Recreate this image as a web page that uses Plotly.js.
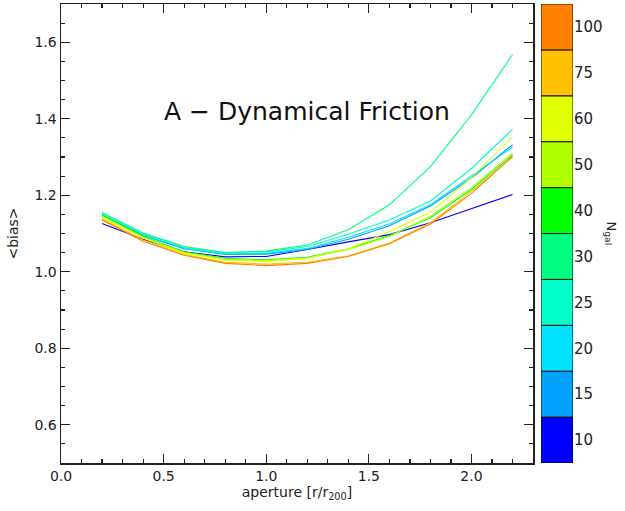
<!DOCTYPE html>
<html><head><meta charset="utf-8">
<script src="https://cdn.plot.ly/plotly-3.0.1.min.js"></script>
<style>html,body{margin:0;padding:0;background:#fff}</style>
</head><body><div id="chart" style="width:625px;height:511px"></div>
<script>
const aperture = [0.2, 0.4, 0.6, 0.8, 1.0, 1.2, 1.4, 1.6, 1.8, 2.0, 2.2];
const ngalLabels = ['10', '15', '20', '25', '30', '40', '50', '60', '75', '100'];
const ngalColors = ['#0000FF', '#00A0FF', '#00E0FF', '#00FFC8', '#00FF80', '#00FF00', '#B0FF00', '#E0FF00', '#FFC000', '#FF8000'];
const bias10  = [1.126, 1.085, 1.052, 1.039, 1.040, 1.058, 1.078, 1.097, 1.128, 1.164, 1.202];
const bias15  = [1.148, 1.095, 1.060, 1.045, 1.046, 1.058, 1.085, 1.120, 1.172, 1.245, 1.332];
const bias20  = [1.150, 1.097, 1.062, 1.047, 1.048, 1.061, 1.090, 1.125, 1.175, 1.250, 1.326];
const bias25  = [1.152, 1.100, 1.064, 1.050, 1.052, 1.066, 1.098, 1.135, 1.185, 1.270, 1.372];
const bias30  = [1.155, 1.101, 1.066, 1.050, 1.054, 1.070, 1.110, 1.175, 1.275, 1.410, 1.568];
const bias40  = [1.148, 1.092, 1.052, 1.035, 1.031, 1.038, 1.060, 1.095, 1.141, 1.215, 1.306];
const bias50  = [1.145, 1.090, 1.050, 1.033, 1.029, 1.036, 1.058, 1.092, 1.145, 1.220, 1.310];
const bias60  = [1.142, 1.088, 1.048, 1.030, 1.027, 1.035, 1.060, 1.105, 1.156, 1.246, 1.353];
const bias75  = [1.138, 1.083, 1.045, 1.025, 1.020, 1.025, 1.042, 1.075, 1.128, 1.210, 1.300];
const bias100 = [1.135, 1.080, 1.043, 1.022, 1.016, 1.022, 1.040, 1.073, 1.125, 1.205, 1.302];
const allBias = [bias10, bias15, bias20, bias25, bias30, bias40, bias50, bias60, bias75, bias100];

const font = {family: 'DejaVu Sans, sans-serif', size: 14, color: '#222'};
const traces = allBias.map((b, i) => ({
  type: 'scatter', mode: 'lines', x: aperture, y: b, xaxis: 'x', yaxis: 'y',
  line: {color: ngalColors[i], width: 1.1}, showlegend: false, hoverinfo: 'skip'
}));
const binIdx = ngalLabels.map((_, i) => i);
traces.push({
  type: 'bar', xaxis: 'x2', yaxis: 'y2', x: binIdx.map(() => 0), y: binIdx.map(() => 1), base: binIdx,
  width: 1, marker: {color: ngalColors, line: {color: '#111', width: 1}}, showlegend: false, hoverinfo: 'skip'
});

const layout = {
  width: 625, height: 511,
  margin: {l: 61, r: 52, t: 4, b: 48},
  paper_bgcolor: '#fff', plot_bgcolor: '#fff',
  font: font, showlegend: false, bargap: 0,
  xaxis: {
    domain: [0, 0.922], range: [0, 2.3], tickvals: [0, 0.5, 1.0, 1.5, 2.0], ticktext: ['0.0', '0.5', '1.0', '1.5', '2.0'],
    ticks: 'inside', ticklen: 9, tickwidth: 1.2, tickcolor: '#222',
    minor: {dtick: 0.1, ticks: 'inside', ticklen: 4, tickcolor: '#222', showgrid: false},
    showline: true, linecolor: '#222', linewidth: 1.5, mirror: 'allticks',
    showgrid: false, zeroline: false,
    title: {text: 'aperture [r/r<sub>200</sub>]', font: font, standoff: 4}
  },
  yaxis: {
    domain: [0, 1], range: [0.5, 1.7], tickvals: [0.6, 0.8, 1.0, 1.2, 1.4, 1.6], ticktext: ['0.6', '0.8', '1.0', '1.2', '1.4', '1.6'],
    ticks: 'inside', ticklen: 9, tickwidth: 1.2, tickcolor: '#222',
    minor: {dtick: 0.05, ticks: 'inside', ticklen: 4, tickcolor: '#222', showgrid: false},
    showline: true, linecolor: '#222', linewidth: 1.5, mirror: 'allticks',
    showgrid: false, zeroline: false,
    title: {text: '&lt;bias&gt;', font: font, standoff: 12}
  },
  xaxis2: {domain: [0.9375, 1], range: [-0.5, 0.5], anchor: 'y2', visible: false, fixedrange: true},
  yaxis2: {
    domain: [0, 1], range: [0, ngalLabels.length], anchor: 'x2', side: 'right',
    tickvals: binIdx.map(i => i + 0.5), ticktext: ngalLabels, ticks: '', ticklen: 0, ticklabelstandoff: 0,
    showline: false, showgrid: false, zeroline: false,
    tickfont: {family: 'DejaVu Sans, sans-serif', size: 15, color: '#222'}
  },
  annotations: [
    {text: 'A \u2212 Dynamical Friction', xref: 'x', yref: 'y', x: 1.2, y: 1.42, showarrow: false,
     font: {family: 'DejaVu Sans, sans-serif', size: 25, color: '#111'}},
    {text: 'N<sub>gal</sub>', xref: 'paper', yref: 'paper', x: 1.074, y: 0.5, xanchor: 'center', yanchor: 'middle',
     showarrow: false, textangle: 90, font: {family: 'DejaVu Sans, sans-serif', size: 13, color: '#222'}}
  ]
};
Plotly.newPlot('chart', traces, layout, {displayModeBar: false, staticPlot: true});
</script></body></html>
